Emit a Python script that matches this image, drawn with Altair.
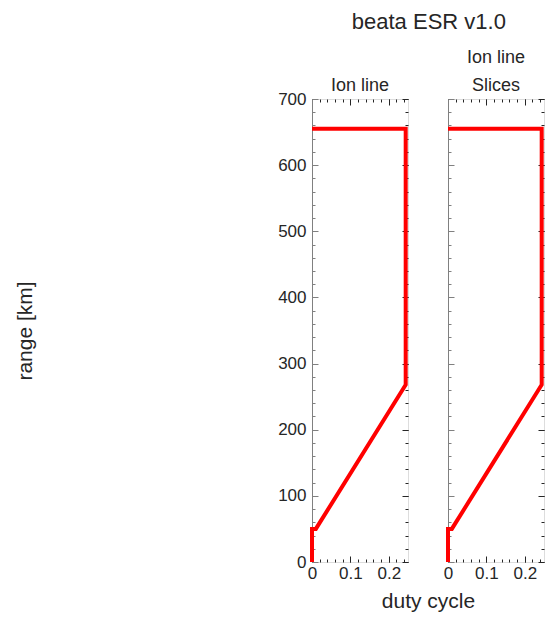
import altair as alt
import pandas as pd

# ---- data ----
panel_titles = [["Ion line"], ["Ion line", "Slices"]]
ion_duty = [0.0, 0.0, 0.01, 0.244, 0.244, 0.0]
ion_range = [0, 50, 50, 268, 655, 655]
slices_duty = [0.0, 0.0, 0.01, 0.244, 0.244, 0.0]
slices_range = [0, 50, 50, 268, 655, 655]

x_major = [0, 0.1, 0.2]
x_minor = [round(0.02 * i, 2) for i in range(13)]
y_major = [0, 100, 200, 300, 400, 500, 600, 700]
y_minor = list(range(0, 701, 20))

FONT = "Liberation Sans"
DARK = "#262626"
GREY = "#808080"
W, H = 96, 463
GAP = 40


def panel(duty, rng, title, first):
    df = pd.DataFrame({"duty": duty, "range": rng, "i": list(range(len(duty)))})
    xs = alt.Scale(domain=[0, 0.25], nice=False, zero=False)
    ys = alt.Scale(domain=[0, 700], nice=False, zero=False)
    base = alt.Chart(df)

    if first:
        x_title = dict(title="duty cycle", titleX=W + GAP / 2, titleY=28, titleBaseline="top",
                       titleAlign="center", titleFontSize=21, titleFont=FONT,
                       titleFontWeight="normal", titleColor=DARK)
        y_title = dict(title="range [km]", titleX=-277, titleY=H / 2, titleAngle=-90,
                       titleAlign="center", titleBaseline="bottom", titleFontSize=21,
                       titleFont=FONT, titleFontWeight="normal", titleColor=DARK)
    else:
        x_title = dict(title=None)
        y_title = dict(title=None)

    line = base.mark_line(color="#ff0000", strokeWidth=4, strokeJoin="miter").encode(
        x=alt.X("duty:Q", scale=xs, axis=alt.Axis(
            orient="bottom", values=x_major, format="~g", ticks=False, domain=False,
            grid=False, labelFontSize=17, labelFont=FONT, labelColor=DARK,
            labelPadding=3, labelFlush=False, labelOverlap=False, **x_title)),
        y=alt.Y("range:Q", scale=ys, axis=alt.Axis(
            orient="left", values=y_major, format="d", ticks=False, domain=True,
            domainColor=GREY, grid=False, labels=first, labelFontSize=17,
            labelFont=FONT, labelColor=DARK, labelPadding=6, labelFlush=False,
            labelOverlap=False, **y_title)),
        order="i:Q",
    )

    def ghost(xorient, yorient, xv, yv, size, xcol=DARK, ycol=DARK):
        return base.mark_line(opacity=0).encode(
            x=alt.X("duty:Q", scale=xs, axis=alt.Axis(
                orient=xorient, values=xv, labels=False, domain=False, grid=False,
                ticks=True, tickSize=size, offset=-size, tickColor=xcol, title=None)),
            y=alt.Y("range:Q", scale=ys, axis=alt.Axis(
                orient=yorient, values=yv, labels=False, domain=False, grid=False,
                ticks=True, tickSize=size, offset=-size, tickColor=ycol, title=None)),
            order="i:Q",
        )

    layers = [
        ghost("bottom", "left", x_major, y_major, 6, DARK, GREY),
        ghost("bottom", "left", x_minor, y_minor, 3, DARK, GREY),
        ghost("top", "right", x_major, y_major, 6),
        ghost("top", "right", x_minor, y_minor, 3),
        line,
    ]
    return alt.layer(*layers).resolve_axis(x="independent", y="independent").properties(
        width=W, height=H,
        title=alt.TitleParams(text=title, fontSize=18, font=FONT, fontWeight="normal",
                              color=DARK, anchor="middle",
                              offset=(-5 if first else 4), lineHeight=28),
    )


p1 = panel(ion_duty, ion_range, panel_titles[0], True)
p2 = panel(slices_duty, slices_range, panel_titles[1], False)

chart = alt.hconcat(p1, p2, spacing=GAP, bounds="flush").properties(
    title=alt.TitleParams(text="beata ESR v1.0", fontSize=22, font=FONT,
                          fontWeight="normal", color=DARK, anchor="middle",
                          frame="bounds", dx=147, offset=14),
    padding={"left": 5, "top": 3, "right": 0, "bottom": 0},
).configure_view(stroke=DARK, strokeWidth=1).configure(background="white")

chart.save("out.html", embed_options={"renderer": "svg", "actions": False})
